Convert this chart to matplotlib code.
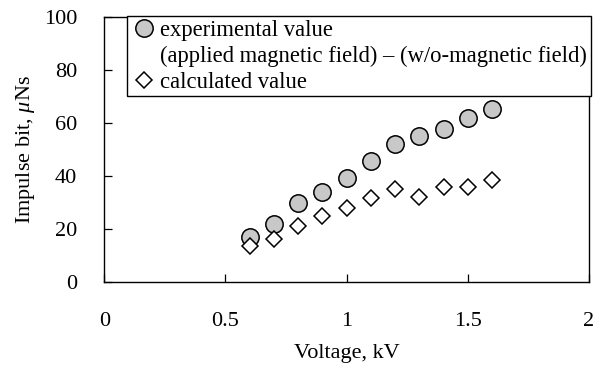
import matplotlib
matplotlib.use('Agg')
import matplotlib.pyplot as plt
from matplotlib.lines import Line2D

plt.rcParams['font.family'] = ['Liberation Serif', 'DejaVu Serif']
plt.rcParams['mathtext.fontset'] = 'custom'
plt.rcParams['mathtext.it'] = 'Liberation Serif:italic'
plt.rcParams['mathtext.rm'] = 'Liberation Serif'

voltage = [0.6, 0.7, 0.8, 0.9, 1.0, 1.1, 1.2, 1.3, 1.4, 1.5, 1.6]
experimental = [16.8, 21.8, 29.9, 33.8, 39.2, 45.7, 52.0, 55.2, 57.7, 62.0, 65.4]
calculated = [13.6, 16.3, 21.2, 24.7, 28.0, 31.7, 34.9, 32.1, 35.8, 35.8, 38.4]

x_ticks = [0, 0.5, 1, 1.5, 2]
x_ticklabels = ['0', '0.5', '1', '1.5', '2']
y_ticks = [0, 20, 40, 60, 80, 100]

fig = plt.figure(figsize=(5.97, 3.65), dpi=100)
ax = fig.add_axes([0.1747, 0.2282, 0.8120, 0.7252])

ax.plot(voltage, experimental, linestyle='none', marker='o', markersize=12.5,
        markerfacecolor='#c8c8c8', markeredgecolor='black', markeredgewidth=1.1)
ax.plot(voltage, calculated, linestyle='none', marker='D', markersize=8.6,
        markerfacecolor='white', markeredgecolor='black', markeredgewidth=1.1)

ax.set_xlim(0, 2)
ax.set_ylim(0, 100)
ax.set_xticks(x_ticks)
ax.set_xticklabels(x_ticklabels)
ax.set_yticks(y_ticks)
ax.tick_params(direction='in', length=6, width=0.9, labelsize=16)
ax.tick_params(axis='x', pad=22)
ax.tick_params(axis='y', pad=19.5)
for s in ax.spines.values():
    s.set_linewidth(1.0)

ax.set_xlabel('Voltage, kV', fontsize=16, labelpad=9)
ax.set_ylabel(r'Impulse bit, $\mathit{\mu}$Ns', fontsize=16, labelpad=5)

h1 = Line2D([], [], linestyle='none', marker='o', markersize=12.5,
            markerfacecolor='#c8c8c8', markeredgecolor='black', markeredgewidth=1.1)
h_blank = Line2D([], [], linestyle='none', marker=None)
h2 = Line2D([], [], linestyle='none', marker='D', markersize=8.6,
            markerfacecolor='white', markeredgecolor='black', markeredgewidth=1.1)
leg = ax.legend([h1, h_blank, h2],
                ['experimental value',
                 '(applied magnetic field) \u2013 (w/o-magnetic field)',
                 'calculated value'],
                loc='upper right', bbox_to_anchor=(1.003, 1.003), borderaxespad=0,
                fontsize=16.25, frameon=True, fancybox=False, handlelength=1.2,
                handletextpad=0.12, borderpad=0.15, labelspacing=0.22,
                edgecolor='black', framealpha=1)
leg.get_frame().set_linewidth(1.0)

fig.savefig('out.png', dpi=100)
